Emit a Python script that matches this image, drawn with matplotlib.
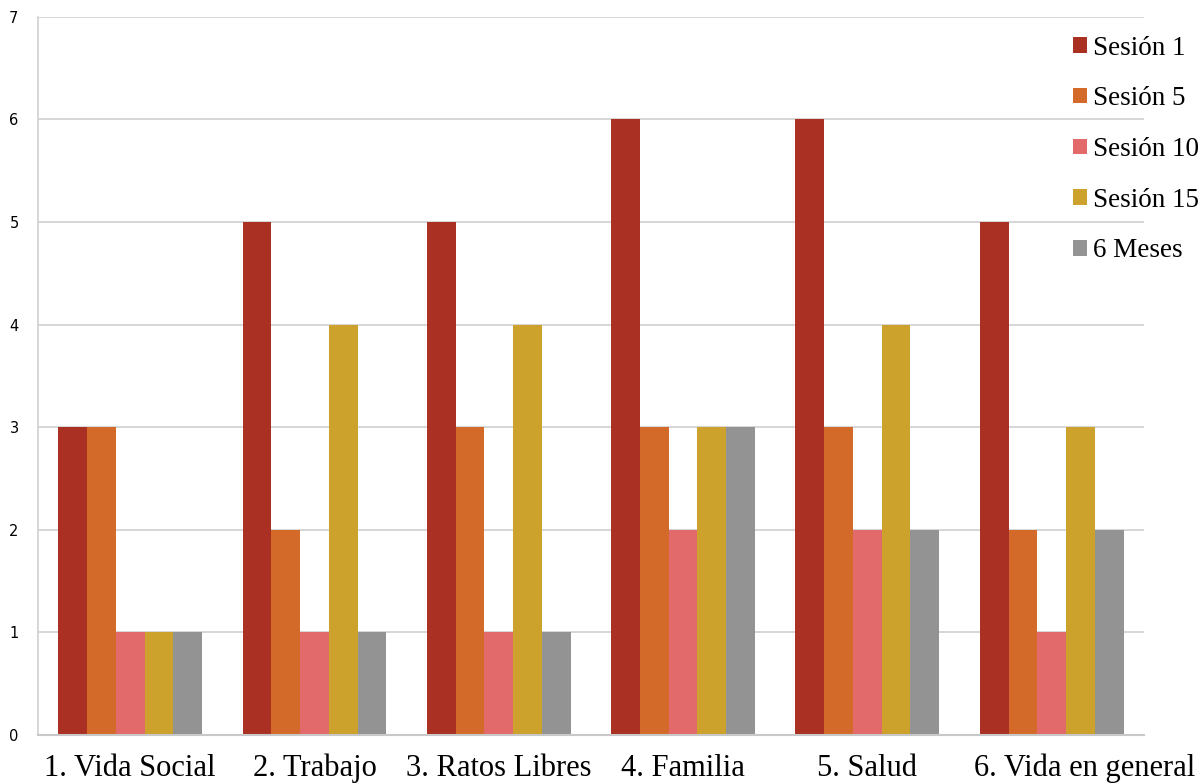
import numpy as np
import matplotlib
matplotlib.use("Agg")
import matplotlib.pyplot as plt
import matplotlib.transforms as mtransforms

# datos
categorias = ['1. Vida Social', '2. Trabajo', '3. Ratos Libres', '4. Familia', '5. Salud', '6. Vida en general']
series = ['Sesión 1', 'Sesión 5', 'Sesión 10', 'Sesión 15', '6 Meses']
sesion1 = [3, 5, 5, 6, 6, 5]
sesion5 = [3, 2, 3, 3, 3, 2]
sesion10 = [1, 1, 1, 2, 2, 1]
sesion15 = [1, 4, 4, 3, 4, 3]
meses6 = [1, 1, 1, 3, 2, 2]
colores = ['#A93022', '#D46A2A', '#E26A6A', '#CCA12C', '#939393']

valores = [sesion1, sesion5, sesion10, sesion15, meses6]

fig = plt.figure(figsize=(12.04, 7.84), dpi=100)
ax = fig.add_axes([0.0316, 0.0625, 0.9184, 0.916])

x = np.arange(len(categorias))
ancho = 0.156
for i, (nombre, v) in enumerate(zip(series, valores)):
    ax.bar(x + (i - 2) * ancho, v, ancho, color=colores[i], label=nombre, zorder=2)

ax.set_xlim(-0.5, len(categorias) - 0.5)
ax.set_ylim(0, 7)
ax.set_yticks(range(0, 8))
ax.yaxis.grid(True, color='#d0d0d0', linewidth=1.2, zorder=0)
ax.set_axisbelow(True)

for s in ['top', 'right']:
    ax.spines[s].set_visible(False)
ax.spines['left'].set_color('#d0d0d0')
ax.spines['left'].set_linewidth(1.2)
ax.spines['bottom'].set_color('#c8c8c8')
ax.spines['bottom'].set_linewidth(1.5)

ax.set_xticks(x)
ax.set_xticklabels(categorias, family='Liberation Serif', fontsize=22, va='baseline')
ax.tick_params(axis='x', length=0, pad=29.5)
ax.tick_params(axis='y', length=0, pad=14, labelsize=10.5)

# la ultima etiqueta esta corrida a la derecha en el original
ultima = ax.get_xticklabels()[-1]
ultima.set_transform(ultima.get_transform() + mtransforms.ScaledTranslation(0.33, 0, fig.dpi_scale_trans))

ley = ax.legend(loc='upper left', bbox_to_anchor=(0.936, 0.974), frameon=False,
                prop={'family': 'Liberation Serif', 'size': 19.5},
                handlelength=0.5, handleheight=0.5, handletextpad=0.25,
                labelspacing=0.95, borderaxespad=0, borderpad=0)

plt.savefig('out.png', dpi=100)
